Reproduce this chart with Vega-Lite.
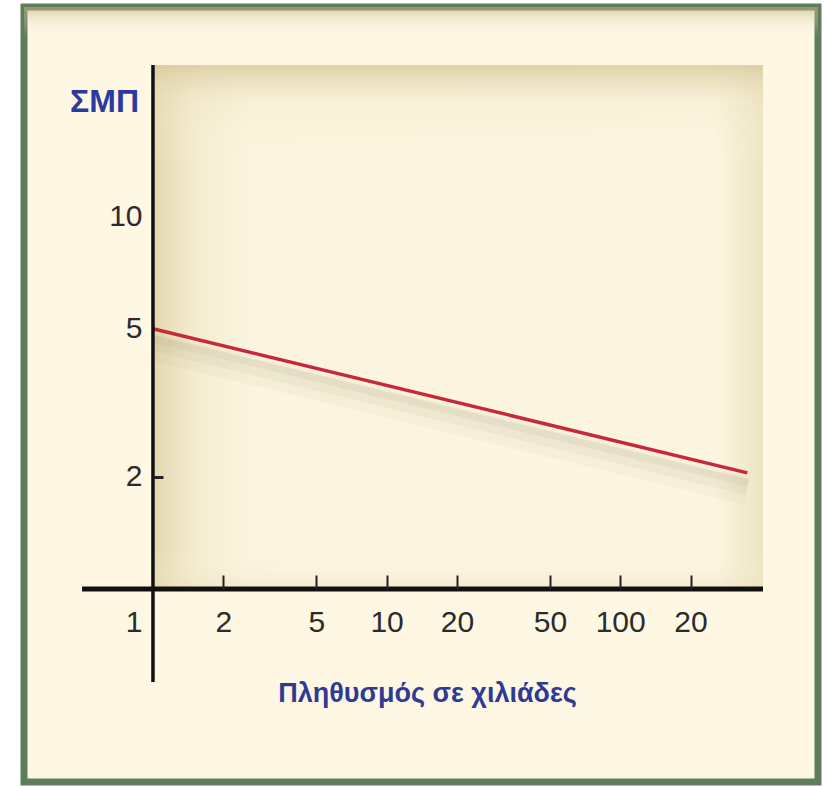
{
  "$schema": "https://vega.github.io/schema/vega-lite/v6.json",
  "width": 794,
  "height": 775,
  "autosize": {"type": "none"},
  "padding": {"left": 24, "top": 7, "right": 8, "bottom": 4},
  "background": "#ffffff",
  "config": {"view": {"fill": "#fdf7e3", "stroke": "#5f7d5b", "strokeWidth": 7}},
  "datasets": {
    "curve": [{"pop": 1, "smp": 5}, {"pop": 350, "smp": 2.05}],
    "one": [{"k": 1}]
  },
  "layer": [
    {
      "data": {"name": "one"},
      "mark": {"type": "rect", "fill": {"gradient": "linear", "x1": 0, "y1": 0, "x2": 0, "y2": 1, "stops": [{"offset": 0, "color": "rgba(190,175,130,0.55)"}, {"offset": 1, "color": "rgba(253,247,227,0)"}]}},
      "encoding": {
        "x": {"datum": 0.2805, "type": "quantitative", "scale": {"type": "log", "domain": [0.2805, 702.5], "nice": false, "zero": false}},
        "x2": {"datum": 702.5},
        "y": {"datum": 30.5, "type": "quantitative", "scale": {"type": "log", "domain": [0.3032, 36.54], "nice": false, "zero": false}},
        "y2": {"datum": 36.54}
      }
    },
    {
      "data": {"name": "one"},
      "mark": {"type": "rect", "fill": {"gradient": "linear", "x1": 0, "y1": 0, "x2": 1, "y2": 0, "stops": [{"offset": 0, "color": "#e4d8b0"}, {"offset": 0.07, "color": "#f5ecd0"}, {"offset": 0.16, "color": "#fbf5df"}, {"offset": 0.92, "color": "#fcf6e1"}, {"offset": 1, "color": "#eee4c3"}]}},
      "encoding": {
        "x": {"datum": 1, "type": "quantitative"},
        "x2": {"datum": 408.5},
        "y": {"datum": 1, "type": "quantitative"},
        "y2": {"datum": 25.53}
      }
    },
    {
      "data": {"name": "one"},
      "mark": {"type": "rect", "fill": {"gradient": "linear", "x1": 0, "y1": 0, "x2": 0, "y2": 1, "stops": [{"offset": 0, "color": "rgba(218,203,158,0.85)"}, {"offset": 0.07, "color": "rgba(238,228,192,0.3)"}, {"offset": 0.2, "color": "rgba(252,246,225,0)"}, {"offset": 0.93, "color": "rgba(252,246,225,0)"}, {"offset": 1, "color": "rgba(232,222,185,0.4)"}]}},
      "encoding": {
        "x": {"datum": 1, "type": "quantitative"},
        "x2": {"datum": 408.5},
        "y": {"datum": 1, "type": "quantitative"},
        "y2": {"datum": 25.53}
      }
    },
    {
      "data": {"name": "curve"},
      "mark": {"type": "line", "color": "#8f8466", "strokeWidth": 28, "opacity": 0.05, "yOffset": 18},
      "encoding": {
        "x": {"field": "pop", "type": "quantitative"},
        "y": {"field": "smp", "type": "quantitative"}
      }
    },
    {
      "data": {"name": "curve"},
      "mark": {"type": "line", "color": "#8f8466", "strokeWidth": 16, "opacity": 0.07, "yOffset": 14},
      "encoding": {
        "x": {"field": "pop", "type": "quantitative"},
        "y": {"field": "smp", "type": "quantitative"}
      }
    },
    {
      "data": {"name": "curve"},
      "mark": {"type": "line", "color": "#8f8466", "strokeWidth": 7, "opacity": 0.08, "yOffset": 10},
      "encoding": {
        "x": {"field": "pop", "type": "quantitative"},
        "y": {"field": "smp", "type": "quantitative"}
      }
    },
    {
      "data": {"name": "curve"},
      "mark": {"type": "line", "color": "#c9283b", "strokeWidth": 3.5},
      "encoding": {
        "x": {
          "field": "pop", "type": "quantitative",
          "axis": {
            "orient": "bottom", "offset": -193, "domain": false, "grid": false, "zindex": 1,
            "values": [1, 2, 5, 10, 20, 50, 100, 200],
            "labelExpr": "datum.value == 200 ? '20' : format(datum.value, 'd')",
            "tickSize": -14, "tickWidth": 2, "tickColor": "#222222",
            "tickOpacity": {"condition": {"test": "datum.value == 1", "value": 0}, "value": 1},
            "labelFont": "Liberation Sans",
            "labelFontSize": 30, "labelColor": "#2b2b2b", "labelPadding": 32,
            "labelAlign": {"condition": {"test": "datum.value == 1", "value": "right"}, "value": "center"},
            "labelOffset": {"condition": {"test": "datum.value == 1", "value": -11}, "value": 0},
            "labelFlush": false, "labelOverlap": false, "labelBound": false,
            "title": "Πληθυσμός σε χιλιάδες",
            "titleFont": "Liberation Sans",
            "titleFontSize": 27, "titleFontWeight": "bold", "titleColor": "#2e3b95",
            "titleX": 403, "titleY": 104, "titleAlign": "center", "titleBaseline": "middle"
          }
        },
        "y": {
          "field": "smp", "type": "quantitative",
          "axis": {
            "orient": "left", "offset": -129, "domain": false, "grid": false, "zindex": 1,
            "values": [2, 5, 10], "format": "d",
            "tickSize": -10, "tickWidth": 3, "tickColor": "#222222",
            "tickOpacity": {"condition": {"test": "datum.value == 2", "value": 1}, "value": 0},
            "labelFont": "Liberation Sans",
            "labelFontSize": 30, "labelColor": "#2b2b2b", "labelPadding": 21,
            "labelFlush": false, "labelOverlap": false, "labelBound": false,
            "title": "ΣΜΠ", "titleAngle": 0,
            "titleFont": "Liberation Sans",
            "titleFontSize": 32, "titleFontWeight": "bold", "titleColor": "#2a3a9e",
            "titleX": -49, "titleY": 94, "titleAlign": "center", "titleBaseline": "middle"
          }
        }
      }
    },
    {
      "data": {"name": "one"},
      "mark": {"type": "rule", "color": "#111111", "strokeWidth": 5},
      "encoding": {
        "x": {"datum": 0.497, "type": "quantitative"},
        "x2": {"datum": 408.5},
        "y": {"datum": 1, "type": "quantitative"}
      }
    },
    {
      "data": {"name": "one"},
      "mark": {"type": "rule", "color": "#111111", "strokeWidth": 3.5},
      "encoding": {
        "x": {"datum": 1, "type": "quantitative"},
        "y": {"datum": 0.5626, "type": "quantitative"},
        "y2": {"datum": 25.53}
      }
    }
  ]
}
